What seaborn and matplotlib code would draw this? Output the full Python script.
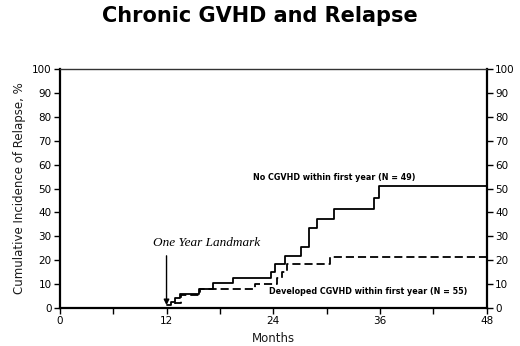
import matplotlib
matplotlib.use("Agg")
import matplotlib.pyplot as plt
import pandas as pd
import seaborn as sns

# step points (months, cumulative incidence %)
no_cgvhd_months = [12, 12.55, 12.9, 13.5, 15.7, 17.2, 19.5, 23.8, 24.2, 25.3,
                   27.1, 28.0, 28.9, 30.8, 35.3, 35.9, 48]
no_cgvhd_pct = [1.3, 2.6, 4.0, 5.8, 8.0, 10.4, 12.7, 15.2, 18.3, 21.8,
                25.7, 33.3, 37.2, 41.3, 45.9, 51.0, 51.0]

cgvhd_months = [12, 13.0, 13.6, 15.8, 22.0, 24.4, 25.0, 25.6, 30.4, 48]
cgvhd_pct = [0.0, 2.0, 5.5, 7.8, 10.0, 12.5, 15.0, 18.2, 21.4, 21.4]

x_ticks = [0, 12, 24, 36, 48]
x_minor = [6, 18, 30, 42]
y_ticks = list(range(0, 101, 10))

df = pd.concat([
    pd.DataFrame({"month": no_cgvhd_months, "pct": no_cgvhd_pct,
                  "group": "No CGVHD within first year (N = 49)"}),
    pd.DataFrame({"month": cgvhd_months, "pct": cgvhd_pct,
                  "group": "Developed CGVHD within first year (N = 55)"}),
])

sns.set_style("ticks")
plt.rcParams["font.family"] = ["DejaVu Sans"]
plt.rcParams["text.color"] = "black"
plt.rcParams["axes.labelcolor"] = "#1a1a1a"
plt.rcParams["xtick.color"] = "black"
plt.rcParams["ytick.color"] = "black"

fig = plt.figure(figsize=(5.2, 3.46), dpi=100)
ax = fig.add_axes([0.115, 0.110, 0.821, 0.690])

sns.lineplot(
    data=df, x="month", y="pct", hue="group", style="group",
    palette=["black", "black"], dashes=[(None, None), (4.5, 2.2)],
    drawstyle="steps-post", linewidth=1.3, legend=False, ax=ax,
    estimator=None, sort=False,
)

ax.set_xlim(0, 48)
ax.set_ylim(0, 100)
ax.set_xticks(x_ticks)
ax.set_xticks(x_minor, minor=True)
ax.set_yticks(y_ticks)
ax.tick_params(axis="both", labelsize=7.5, length=4, width=1, direction="out",
               pad=2)
ax.tick_params(axis="x", which="minor", length=4, width=1)
ax.set_xlabel("Months", fontsize=8.5, labelpad=4)
ax.set_ylabel("Cumulative Incidence of Relapse, %", fontsize=8.5, labelpad=4)

for side in ["left", "right", "bottom"]:
    ax.spines[side].set_visible(True)
    ax.spines[side].set_linewidth(1.6)
    ax.spines[side].set_color("black")
ax.spines["top"].set_visible(True)
ax.spines["top"].set_linewidth(1.0)
ax.spines["top"].set_color("#333333")

# mirrored right axis
ax2 = ax.twinx()
ax2.set_ylim(0, 100)
ax2.set_yticks(y_ticks)
ax2.tick_params(axis="y", labelsize=7.5, length=4, width=1, pad=2)
for side in ax2.spines:
    ax2.spines[side].set_visible(False)

ax.text(30.9, 54.8, "No CGVHD within first year (N = 49)", fontsize=5.8,
        fontweight="bold", ha="center", va="center")
ax.text(34.7, 6.7, "Developed CGVHD within first year (N = 55)", fontsize=5.8,
        fontweight="bold", ha="center", va="center")
ax.text(16.5, 27.2, "One Year Landmark", family="Liberation Serif",
        style="italic", fontsize=9.5, ha="center", va="center")
ax.annotate("", xy=(12, 0), xytext=(12, 23),
            arrowprops=dict(arrowstyle="-|>", color="black", lw=1,
                            mutation_scale=8))

fig.text(0.5, 0.955, "Chronic GVHD and Relapse", fontsize=15,
         fontweight="heavy", ha="center", va="center")

fig.savefig("out.png", dpi=100)
